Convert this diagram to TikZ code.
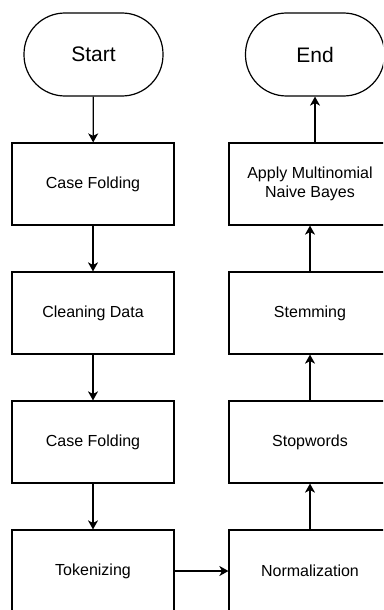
\documentclass[tikz,border=0pt]{standalone}
\usepackage{fontspec}
\setmainfont{Liberation Sans}
\usetikzlibrary{arrows.meta}

\begin{document}
\begin{tikzpicture}[x=1pt,y=-1pt,
    box/.style={draw,line width=1.2pt,minimum width=162pt,minimum height=82pt,inner sep=0pt,align=center,font=\fontsize{16}{19.5}\selectfont},
    term/.style={draw,line width=1.2pt,rounded corners=41pt,minimum width=139pt,minimum height=83pt,inner sep=0pt,font=\fontsize{21}{25}\selectfont},
    arr/.style={-{Stealth[length=9pt,width=10pt,inset=2.5pt]},line width=1.2pt}]
    \useasboundingbox (0,0) rectangle (383,610);
    \clip (0,0) rectangle (383,610);

    \node[term] (S) at (93.5,54.5) {Start};
    \node[term] (E) at (315,54.5) {End};

    \begin{scope}[every node/.style={box}]
    % left column, top to bottom
    \node (CF1) at (93,184) {Case Folding};
    \node (CD) at (93,313) {Cleaning Data};
    \node (CF2) at (93,442) {Case Folding};
    \node (T) at (93,571) {Tokenizing};
    % right column, bottom to top
    \node (N) at (310,571) {Normalization};
    \node (SW) at (310,442) {Stopwords};
    \node (ST) at (310,313) {Stemming};
    \node (MNB) at (310,184) {Apply Multinomial\\Naive Bayes};
    \end{scope}

    \draw[arr] (S) -- (CF1);
    \draw[arr] (CF1) -- (CD);
    \draw[arr] (CD) -- (CF2);
    \draw[arr] (CF2) -- (T);
    \draw[arr] (T) -- (N);
    \draw[arr] (N) -- (SW);
    \draw[arr] (SW) -- (ST);
    \draw[arr] (ST) -- (MNB);
    \draw[arr] (MNB.north -| E) -- (E);
\end{tikzpicture}
\end{document}
